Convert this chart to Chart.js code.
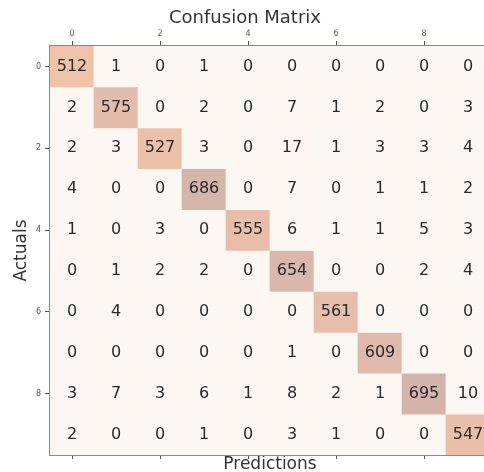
<!DOCTYPE html>
<html>
<head>
<meta charset="utf-8">
<script src="https://cdn.jsdelivr.net/npm/chart.js@4/dist/chart.umd.min.js"></script>
<style>
  html, body { margin: 0; padding: 0; background: #fff; overflow: hidden; }
</style>
</head>
<body>
<canvas id="myChart" width="500" height="472"></canvas>
<script>
// ------------------------Data-------------------------------------------------
const classes = [0, 1, 2, 3, 4, 5, 6, 7, 8, 9]
const tickValues = [0, 2, 4, 6, 8]
const counts = [
  [512, 1, 0, 1, 0, 0, 0, 0, 0, 0],
  [2, 575, 0, 2, 0, 7, 1, 2, 0, 3],
  [2, 3, 527, 3, 0, 17, 1, 3, 3, 4],
  [4, 0, 0, 686, 0, 7, 0, 1, 1, 2],
  [1, 0, 3, 0, 555, 6, 1, 1, 5, 3],
  [0, 1, 2, 2, 0, 654, 0, 0, 2, 4],
  [0, 4, 0, 0, 0, 0, 561, 0, 0, 0],
  [0, 0, 0, 0, 0, 1, 0, 609, 0, 0],
  [3, 7, 3, 6, 1, 8, 2, 1, 695, 10],
  [2, 0, 0, 1, 0, 3, 1, 0, 0, 547]
]

// ------------------------Cell colour------------------------------------------
const colorStops = [
  [0, [253, 247, 243]],
  [100, [252, 244, 239]],
  [510, [240, 194, 170]],
  [600, [224, 186, 171]],
  [700, [211, 180, 170]]
]
let cellColor = (v) => {
  for (let i = 1; i < colorStops.length; i++) {
    const [v0, c0] = colorStops[i - 1]
    const [v1, c1] = colorStops[i]
    if (v <= v1) {
      const t = (v - v0) / (v1 - v0)
      const c = c0.map((k, j) => Math.round(k + (c1[j] - k) * t))
      return `rgb(${c[0]}, ${c[1]}, ${c[2]})`
    }
  }
  const last = colorStops[colorStops.length - 1][1]
  return `rgb(${last[0]}, ${last[1]}, ${last[2]})`
}

// ------------------------Datasets (one per actual row)------------------------
const datasets = classes.map((r) => ({
  data: classes.map((c) => ({ x: c, y: [r - 0.5, r + 0.5] })),
  backgroundColor: counts[r].map((v) => cellColor(v)),
  borderWidth: 0,
  grouped: false,
  barPercentage: 1,
  categoryPercentage: 1
}))

// ------------------------Numbers in cells-------------------------------------
const cellText = {
  id: 'cellText',
  afterDatasetsDraw(chart) {
    const { ctx, scales } = chart
    ctx.save()
    ctx.font = '16px "DejaVu Sans"'
    ctx.fillStyle = '#2b2b2b'
    ctx.textAlign = 'center'
    ctx.textBaseline = 'middle'
    classes.forEach((r) => {
      classes.forEach((c) => {
        ctx.fillText(String(counts[r][c]), scales.x.getPixelForValue(c), scales.y.getPixelForValue(r))
      })
    })
    ctx.restore()
  }
}

const setTicks = (scale) => {
  scale.ticks = tickValues.map((v) => ({ value: v }))
}

const tickFont = { family: 'DejaVu Sans', size: 8 }
const axisBorder = { display: true, color: '#8a8a8a', width: 2 }

// ------------------------Chart------------------------------------------------
const chartCanvas = document.getElementById('myChart')
const myChart = new Chart(chartCanvas, {
  type: 'bar',
  data: { datasets: datasets },
  plugins: [cellText],
  options: {
    responsive: false,
    devicePixelRatio: 1,
    animation: false,
    layout: { padding: { left: 0, right: 10, top: 0, bottom: 0 } },
    plugins: {
      legend: { display: false },
      tooltip: { enabled: false },
      title: {
        display: true,
        text: 'Confusion Matrix',
        color: '#333',
        font: { family: 'DejaVu Sans', size: 18, weight: 'normal', lineHeight: 1.2 },
        padding: { top: 8, bottom: 0 }
      }
    },
    scales: {
      x: {
        type: 'linear',
        position: 'top',
        min: -0.5,
        max: 9.5,
        offset: false,
        z: 1,
        afterBuildTicks: setTicks,
        afterFit: (s) => { s.height = 16.4 },
        grid: { offset: false, drawOnChartArea: false, tickLength: 5, tickColor: '#555', tickWidth: 1 },
        border: axisBorder,
        ticks: { font: tickFont, color: '#555', padding: 2, maxRotation: 0 }
      },
      x2: {
        type: 'linear',
        position: 'bottom',
        min: -0.5,
        max: 9.5,
        offset: false,
        z: 1,
        afterBuildTicks: setTicks,
        afterFit: (s) => { s.height = 17 },
        grid: { offset: false, drawOnChartArea: false, tickLength: 4, tickColor: '#555', tickWidth: 1 },
        border: axisBorder,
        ticks: { callback: () => '' },
        title: {
          display: true,
          text: 'Predictions',
          color: '#333',
          font: { family: 'DejaVu Sans', size: 17, lineHeight: 0.85 },
          padding: 0
        }
      },
      y: {
        type: 'linear',
        reverse: true,
        min: -0.5,
        max: 9.5,
        z: 1,
        afterBuildTicks: setTicks,
        afterFit: (s) => { s.width = 50 },
        grid: { drawOnChartArea: false, tickLength: 5, tickColor: '#555', tickWidth: 1 },
        border: axisBorder,
        ticks: { font: tickFont, color: '#555', padding: 4 },
        title: {
          display: true,
          text: 'Actuals',
          color: '#333',
          font: { family: 'DejaVu Sans', size: 17, lineHeight: 1.2 },
          padding: { top: 11, bottom: 0 }
        }
      }
    }
  }
})
</script>
</body>
</html>
